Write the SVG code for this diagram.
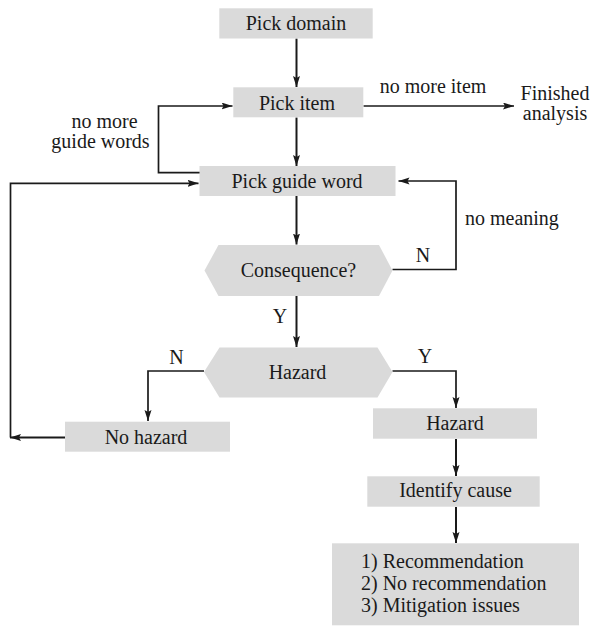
<svg xmlns="http://www.w3.org/2000/svg" width="590" height="626" viewBox="0 0 590 626">
<style>
.box{fill:#dadada;stroke:none}
.t{font-family:"Liberation Serif","Times New Roman",serif;font-size:20px;fill:#1a1a1a}
.c{text-anchor:middle}
.ln{fill:none;stroke:#1a1a1a;stroke-width:1.7}
.mn{stroke-width:2}
.ar{marker-end:url(#ah)}
</style>
<defs>
<marker id="ah" markerUnits="userSpaceOnUse" markerWidth="12" markerHeight="8" refX="11" refY="3.5" orient="auto">
<path d="M0,0 L11,3.5 L0,7 L2,3.5 z" fill="#1a1a1a"/>
</marker>
</defs>
<rect width="590" height="626" fill="#ffffff"/>
<g id="connectors">
<line class="ln mn ar" x1="296.5" y1="38.5" x2="296.5" y2="87"/>
<line class="ln ar" x1="363.5" y1="106" x2="514" y2="106"/>
<line class="ln mn ar" x1="296.5" y1="117.5" x2="296.5" y2="166"/>
<path class="ln ar" d="M200,172.7 L158.5,172.7 L158.5,106 L232.5,106"/>
<line class="ln mn ar" x1="296.5" y1="196" x2="296.5" y2="244.5"/>
<path class="ln ar" d="M392.5,269.5 L456,269.5 L456,181 L398.5,181"/>
<line class="ln mn ar" x1="296.5" y1="296" x2="296.5" y2="347"/>
<path class="ln ar" d="M204,371 L148,371 L148,421"/>
<path class="ln ar" d="M392.5,371 L456,371 L456,408"/>
<line class="ln mn ar" x1="65" y1="437.5" x2="10" y2="437.5"/>
<path class="ln ar" d="M10.5,437.5 L10.5,183.3 L198.5,183.3"/>
<line class="ln mn ar" x1="456" y1="439" x2="456" y2="476"/>
<line class="ln mn ar" x1="456" y1="507" x2="456" y2="543"/>
</g>
<g id="pick-domain">
<rect class="box" x="219.3" y="8.3" width="153.4" height="30.2"/>
<text class="t c" x="296" y="30">Pick domain</text>
</g>
<g id="pick-item">
<rect class="box" x="233.3" y="87.3" width="130" height="30"/>
<text class="t c" x="297" y="110">Pick item</text>
</g>
<g id="finished">
<text class="t c" x="555" y="99.5">Finished</text>
<text class="t c" x="555" y="119.5">analysis</text>
</g>
<g id="pick-guide-word">
<rect class="box" x="199.5" y="166" width="196" height="30"/>
<text class="t c" x="297" y="188">Pick guide word</text>
</g>
<g id="consequence">
<polygon class="box" points="204.5,270.5 218.5,245 379,245 392.5,270.5 379,296 218.5,296"/>
<text class="t c" x="298.5" y="277">Consequence?</text>
</g>
<g id="hazard-decision">
<polygon class="box" points="204,372 219.5,347.5 377.5,347.5 392.5,372 377.5,397.5 219.5,397.5"/>
<text class="t c" x="297.5" y="379">Hazard</text>
</g>
<g id="no-hazard">
<rect class="box" x="65" y="421.7" width="165" height="30"/>
<text class="t c" x="146" y="443.5">No hazard</text>
</g>
<g id="hazard">
<rect class="box" x="373" y="408.3" width="164" height="30.4"/>
<text class="t c" x="455" y="430">Hazard</text>
</g>
<g id="identify-cause">
<rect class="box" x="367.3" y="476.3" width="172.4" height="30.4"/>
<text class="t c" x="455.5" y="497">Identify cause</text>
</g>
<g id="outcomes">
<rect class="box" x="332" y="543.3" width="247" height="82"/>
<text class="t" x="361" y="567.5">1) Recommendation</text>
<text class="t" x="361" y="590">2) No recommendation</text>
<text class="t" x="361" y="611.5">3) Mitigation issues</text>
</g>
<g id="labels">
<text class="t c" x="433" y="93">no more item</text>
<text class="t c" x="104.5" y="127.5">no more</text>
<text class="t c" x="100.5" y="147.5">guide words</text>
<text class="t" x="465" y="225">no meaning</text>
<text class="t c" x="423" y="262">N</text>
<text class="t c" x="280" y="323">Y</text>
<text class="t c" x="176.5" y="364">N</text>
<text class="t c" x="425" y="363">Y</text>
</g>
</svg>
